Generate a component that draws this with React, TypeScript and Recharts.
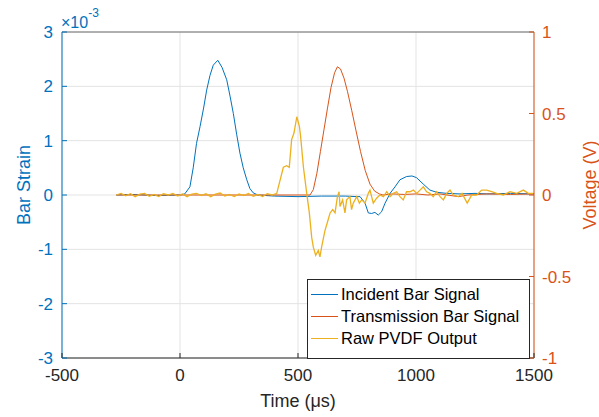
import React from 'react';
import { LineChart, Line, XAxis, YAxis, CartesianGrid, ReferenceLine } from 'recharts';

// x axis: time in microseconds
const xTicks = [-500, 0, 500, 1000, 1500];
const strainTicks = [-3, -2, -1, 0, 1, 2, 3]; // x 1e-3
const voltTicks = [-1, -0.5, 0, 0.5, 1];

// incident bar (strain, x1e-3)
const incidentTime = [
  -270, -200, -100, 0, 20, 42, 56, 70, 85, 100, 113, 127, 141, 160, 178, 198, 212, 226, 240, 254,
  268, 283, 296, 310, 330, 400, 500, 600, 700, 750, 763, 784, 798, 812, 826, 840, 854, 869, 890,
  911, 932, 960, 983, 1002, 1031, 1059, 1088, 1130, 1186, 1250, 1300, 1400, 1500,
];
const incidentStrain = [
  0, 0.01, -0.01, 0, 0.02, 0.15, 0.5, 0.95, 1.26, 1.6, 1.93, 2.2, 2.39, 2.48, 2.35, 2.12, 1.82, 1.5,
  1.12, 0.77, 0.5, 0.28, 0.12, 0.04, 0, -0.02, -0.03, -0.02, -0.02, -0.03, -0.03, -0.15, -0.33,
  -0.34, -0.32, -0.37, -0.31, -0.15, 0.03, 0.15, 0.28, 0.34, 0.35, 0.32, 0.2, 0.09, 0.05, 0.03,
  0.02, 0.03, 0.02, 0.03, 0.02,
];

// transmission bar (strain, x1e-3)
const transTime = [
  -270, 400, 500, 551, 565, 580, 595, 610, 625, 640, 655, 667, 680, 695, 710, 728, 746, 765, 785,
  805, 825, 845, 860, 900, 950, 1000, 1050, 1100, 1180, 1220, 1300, 1400, 1500,
];
const transStrain = [
  0, 0, 0, 0, 0.1, 0.4, 0.8, 1.2, 1.6, 1.98, 2.25, 2.36, 2.32, 2.15, 1.9, 1.55, 1.18, 0.8, 0.45,
  0.2, 0.07, 0.02, 0, 0.02, 0.01, 0.02, 0, 0.02, -0.03, 0, 0.02, 0.01, 0.02,
];

// raw PVDF output (V)
const pvdfTime = [
  -270, -250, -230, -210, -190, -170, -150, -130, -110, -90, -70, -50, -30, -10, 10, 30, 50, 70, 90,
  110, 130, 150, 170, 190, 210, 230, 250, 270, 290, 310, 330, 350, 370, 390,
  410, 438, 452, 463, 473, 483, 495, 506, 511, 523, 537, 548, 558, 565, 575, 586, 593, 600, 614,
  628, 636, 647, 657, 667, 674, 678, 689, 699, 706, 720, 727, 734, 749, 760, 770, 784, 798, 805,
  819, 833, 847, 862, 876, 890, 904, 918, 932, 946, 960, 974, 989, 1003, 1017, 1031, 1045, 1059,
  1073, 1087, 1102, 1116, 1130, 1144, 1158, 1180, 1195, 1217, 1236, 1257, 1278, 1299, 1321, 1342,
  1370, 1398, 1427, 1455, 1476, 1497,
];
const pvdfVoltage = [
  0, 0.01, -0.005, 0.008, -0.01, 0.005, 0.01, -0.008, 0.004, -0.01, 0.008, 0, 0.01, -0.006, 0.007,
  -0.01, 0.006, 0.01, -0.004, 0.008, -0.01, 0.005, 0.012, -0.006, 0.004, -0.01, 0.006, -0.004,
  0.009, -0.008, 0.003, -0.01, 0.008, 0,
  0.01, 0.17, 0.18, 0.17, 0.34, 0.38, 0.48, 0.42, 0.36, 0.17, 0.01, -0.11, -0.26, -0.32, -0.37,
  -0.34, -0.38, -0.32, -0.22, -0.15, -0.11, -0.09, -0.11, -0.01, 0.02, -0.07, -0.03, -0.11, -0.03,
  -0.01, -0.09, -0.05, -0.01, -0.05, -0.03, -0.05, 0.01, 0.03, -0.05, -0.02, 0, -0.01, 0.02, -0.01,
  0.01, 0.02, -0.01, -0.03, 0.02, 0.02, 0.03, 0.01, 0.03, 0.05, 0.02, 0.01, -0.01, 0.02, -0.01,
  -0.03, 0.01, 0.03, 0, -0.01, 0.01, -0.05, 0, 0, 0.03, 0.03, 0.02, 0.01, 0, 0.02, 0.01, 0.03,
  0.01, 0.01,
];

const incidentData = incidentTime.map((t, i) => ({ t, v: incidentStrain[i] }));
const transData = transTime.map((t, i) => ({ t, v: transStrain[i] }));
const pvdfData = pvdfTime.map((t, i) => ({ t, v: pvdfVoltage[i] }));

const BLUE = '#0072BD';
const ORANGE = '#D95319';
const YELLOW = '#EDB120';
const DARK = '#262626';
const FONT = '"Liberation Sans", Arial, Helvetica, sans-serif';

const LEFT = 62;
const RIGHT = 534;
const BOTTOM = 358;

const XTick = ({ x, payload }: any) => (
  <g>
    <line x1={x} x2={x} y1={BOTTOM} y2={BOTTOM - 5} stroke={DARK} />
    <text x={x} y={381} textAnchor="middle" fontSize={17} fill={DARK} fontFamily={FONT}>
      {payload.value}
    </text>
  </g>
);

const LeftTick = ({ y, payload }: any) => (
  <g>
    <line x1={LEFT} x2={LEFT + 5} y1={y} y2={y} stroke={BLUE} />
    <text x={LEFT - 9} y={y} dy="0.36em" textAnchor="end" fontSize={17} fill={BLUE} fontFamily={FONT}>
      {payload.value}
    </text>
  </g>
);

const RightTick = ({ y, payload }: any) => (
  <g>
    <line x1={RIGHT} x2={RIGHT - 5} y1={y} y2={y} stroke={ORANGE} />
    <text x={RIGHT + 8} y={y} dy="0.36em" textAnchor="start" fontSize={17} fill={ORANGE} fontFamily={FONT}>
      {payload.value}
    </text>
  </g>
);

const legendItems = [
  { name: 'Incident Bar Signal', color: BLUE },
  { name: 'Transmission Bar Signal', color: ORANGE },
  { name: 'Raw PVDF Output', color: YELLOW },
];

export default function App() {
  return (
    <div style={{ position: 'absolute', left: 0, top: 0, width: 599, height: 417, background: '#fff' }}>
      <LineChart width={599} height={417} margin={{ top: 32, right: 0, bottom: 0, left: 0 }}>
        <CartesianGrid yAxisId="left" stroke="#e3e3e3" />
        <XAxis
          type="number"
          dataKey="t"
          domain={[-500, 1500]}
          ticks={xTicks}
          interval={0}
          height={59}
          axisLine={{ stroke: DARK }}
          tickLine={false}
          tick={XTick}
          label={() => (
            <text x={298} y={407} textAnchor="middle" fontSize={18} fill={DARK} fontFamily={FONT}>
              Time (μs)
            </text>
          )}
        />
        <YAxis
          yAxisId="left"
          domain={[-3, 3]}
          ticks={strainTicks}
          interval={0}
          width={62}
          axisLine={{ stroke: BLUE }}
          tickLine={false}
          tick={LeftTick}
          label={() => (
            <g fontFamily={FONT} fill={BLUE}>
              <text x={30} y={185} transform="rotate(-90 30 185)" textAnchor="middle" fontSize={18}>
                Bar Strain
              </text>
              <text x={61} y={28} fontSize={16}>
                ×10
                <tspan dy={-11} fontSize={12}>-3</tspan>
              </text>
            </g>
          )}
        />
        <YAxis
          yAxisId="right"
          orientation="right"
          domain={[-1, 1]}
          ticks={voltTicks}
          interval={0}
          width={65}
          axisLine={{ stroke: ORANGE }}
          tickLine={false}
          tick={RightTick}
          label={() => (
            <text
              x={596}
              y={185}
              transform="rotate(-90 596 185)"
              textAnchor="middle"
              fontSize={18}
              fill={ORANGE}
              fontFamily={FONT}
            >
              Voltage (V)
            </text>
          )}
        />
        <ReferenceLine yAxisId="left" y={3} stroke="#6e6e6e" />
        <Line
          yAxisId="left"
          data={incidentData}
          dataKey="v"
          stroke={BLUE}
          strokeWidth={1}
          dot={false}
          isAnimationActive={false}
        />
        <Line
          yAxisId="left"
          data={transData}
          dataKey="v"
          stroke={ORANGE}
          strokeWidth={1}
          dot={false}
          isAnimationActive={false}
        />
        <Line
          yAxisId="right"
          data={pvdfData}
          dataKey="v"
          stroke={YELLOW}
          strokeWidth={1.3}
          dot={false}
          isAnimationActive={false}
        />
      </LineChart>
      <div
        style={{
          position: 'absolute',
          left: 307,
          top: 279,
          width: 221,
          height: 75,
          border: `1px solid ${DARK}`,
          background: '#fff',
          paddingTop: 3,
          boxSizing: 'content-box',
          fontFamily: FONT,
          fontSize: 16.5,
          color: '#000',
        }}
      >
        {legendItems.map((item) => (
          <div key={item.name} style={{ display: 'flex', alignItems: 'center', height: 22 }}>
            <span style={{ display: 'inline-block', width: 27, height: 1, background: item.color, marginLeft: 3, marginRight: 3 }} />
            <span>{item.name}</span>
          </div>
        ))}
      </div>
    </div>
  );
}
